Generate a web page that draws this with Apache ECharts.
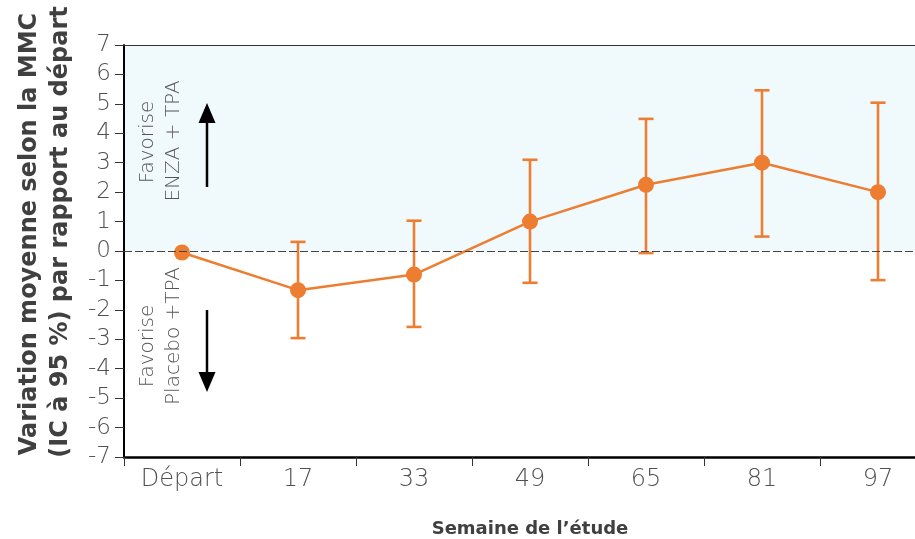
<!DOCTYPE html>
<html>
<head>
<meta charset="utf-8">
<script src="https://cdn.jsdelivr.net/npm/echarts@6/dist/echarts.min.js"></script>
<style>
  html, body { margin: 0; padding: 0; background: #fff; }
  #chart { width: 915px; height: 539px; }
</style>
</head>
<body>
<div id="chart"></div>
<script>
// Study weeks and mean change (95% CI) vs. baseline
const weeks = ['Départ', '17', '33', '49', '65', '81', '97'];
const meanChange = [-0.05, -1.33, -0.8, 1.0, 2.25, 3.0, 2.0];
const ciLow = [null, -2.96, -2.58, -1.08, -0.07, 0.49, -0.99];
const ciHigh = [null, 0.31, 1.03, 3.1, 4.49, 5.46, 5.04];
const yTicks = [-7, -6, -5, -4, -3, -2, -1, 0, 1, 2, 3, 4, 5, 6, 7];

const ORANGE = '#ED7D31';
const LIGHT = "'DejaVu Sans ExtraLight', 'DejaVu Sans', sans-serif";
const BOLD = "'DejaVu Sans', sans-serif";

const ciData = weeks.map((w, i) => [i, ciLow[i], ciHigh[i]]).filter(d => d[1] !== null);

const chart = echarts.init(document.getElementById('chart'), null, { renderer: 'canvas' });

chart.setOption({
  animation: false,
  backgroundColor: '#ffffff',
  grid: { left: 124, top: 45, width: 812, height: 412, containLabel: false, outerBoundsMode: 'none' },
  xAxis: {
    type: 'category',
    data: weeks,
    boundaryGap: true,
    axisLine: { onZero: false, lineStyle: { color: '#000', width: 2.5 } },
    axisTick: { show: true, length: 9, lineStyle: { color: '#333', width: 1 } },
    axisLabel: { color: '#505050', fontSize: 24, fontFamily: LIGHT, fontWeight: 200, margin: 11 },
    name: 'Semaine de l\u2019étude',
    nameLocation: 'middle',
    nameGap: 63,
    nameTextStyle: { color: '#404040', fontSize: 18, fontWeight: 'bold', fontFamily: BOLD }
  },
  yAxis: {
    type: 'value',
    min: yTicks[0],
    max: yTicks[yTicks.length - 1],
    interval: 1,
    splitLine: { show: false },
    axisLine: { show: true, onZero: false, lineStyle: { color: '#000', width: 2 } },
    axisTick: { show: true, inside: false, length: 9, lineStyle: { color: '#333', width: 1 } },
    axisLabel: { color: '#505050', fontSize: 23, fontFamily: LIGHT, fontWeight: 200, margin: 13 }
  },
  series: [
    {
      type: 'custom',
      name: 'IC 95 %',
      z: 2,
      data: ciData,
      renderItem: function (params, api) {
        const x = api.value(0);
        const lo = api.coord([x, api.value(1)]);
        const hi = api.coord([x, api.value(2)]);
        const cap = 7.5;
        const style = { stroke: ORANGE, lineWidth: 2.6, fill: null };
        return {
          type: 'group',
          children: [
            { type: 'line', shape: { x1: lo[0], y1: lo[1], x2: hi[0], y2: hi[1] }, style: style },
            { type: 'line', shape: { x1: lo[0] - cap, y1: lo[1], x2: lo[0] + cap, y2: lo[1] }, style: style },
            { type: 'line', shape: { x1: hi[0] - cap, y1: hi[1], x2: hi[0] + cap, y2: hi[1] }, style: style }
          ]
        };
      }
    },
    {
      type: 'line',
      name: 'Variation moyenne',
      z: 3,
      data: meanChange,
      symbol: 'circle',
      symbolSize: 16,
      lineStyle: { color: ORANGE, width: 2.5 },
      itemStyle: { color: ORANGE },
      markArea: {
        silent: true,
        z: 0,
        itemStyle: { color: '#f0f9fc' },
        data: [[{ yAxis: 0 }, { yAxis: 7 }]]
      },
      markLine: {
        silent: true,
        symbol: 'none',
        label: { show: false },
        data: [
          { yAxis: 0, lineStyle: { color: '#444', width: 1, type: [8, 3] } },
          { yAxis: 7, lineStyle: { color: '#333', width: 1, type: 'solid' } }
        ]
      }
    }
  ],
  graphic: {
    elements: [
      // vertical axis title, two lines
      { type: 'text', z: 100, x: 30, y: 234, rotation: Math.PI / 2,
        style: { text: 'Variation moyenne selon la MMC', fill: '#404040', font: 'bold 24px ' + BOLD, align: 'center', verticalAlign: 'middle' } },
      { type: 'text', z: 100, x: 61, y: 232, rotation: Math.PI / 2,
        style: { text: '(IC à 95 %) par rapport au départ', fill: '#404040', font: 'bold 24px ' + BOLD, align: 'center', verticalAlign: 'middle' } },
      // direction annotations
      { type: 'text', z: 100, x: 148, y: 142, rotation: Math.PI / 2,
        style: { text: 'Favorise', fill: '#555', font: '200 20px ' + LIGHT, align: 'center', verticalAlign: 'middle' } },
      { type: 'text', z: 100, x: 174, y: 141, rotation: Math.PI / 2,
        style: { text: 'ENZA + TPA', fill: '#555', font: '200 20px ' + LIGHT, align: 'center', verticalAlign: 'middle' } },
      { type: 'text', z: 100, x: 148, y: 346, rotation: Math.PI / 2,
        style: { text: 'Favorise', fill: '#555', font: '200 20px ' + LIGHT, align: 'center', verticalAlign: 'middle' } },
      { type: 'text', z: 100, x: 174, y: 336, rotation: Math.PI / 2,
        style: { text: 'Placebo +TPA', fill: '#555', font: '200 20px ' + LIGHT, align: 'center', verticalAlign: 'middle' } },
      // up arrow
      { type: 'line', z: 100, shape: { x1: 207, y1: 187, x2: 207, y2: 118 }, style: { stroke: '#000', lineWidth: 2.5 } },
      { type: 'polygon', z: 100, shape: { points: [[207, 103], [198.5, 123], [215.5, 123]] }, style: { fill: '#000' } },
      // down arrow
      { type: 'line', z: 100, shape: { x1: 207, y1: 310, x2: 207, y2: 378 }, style: { stroke: '#000', lineWidth: 2.5 } },
      { type: 'polygon', z: 100, shape: { points: [[207, 392], [198.5, 372], [215.5, 372]] }, style: { fill: '#000' } }
    ]
  }
});
</script>
</body>
</html>
